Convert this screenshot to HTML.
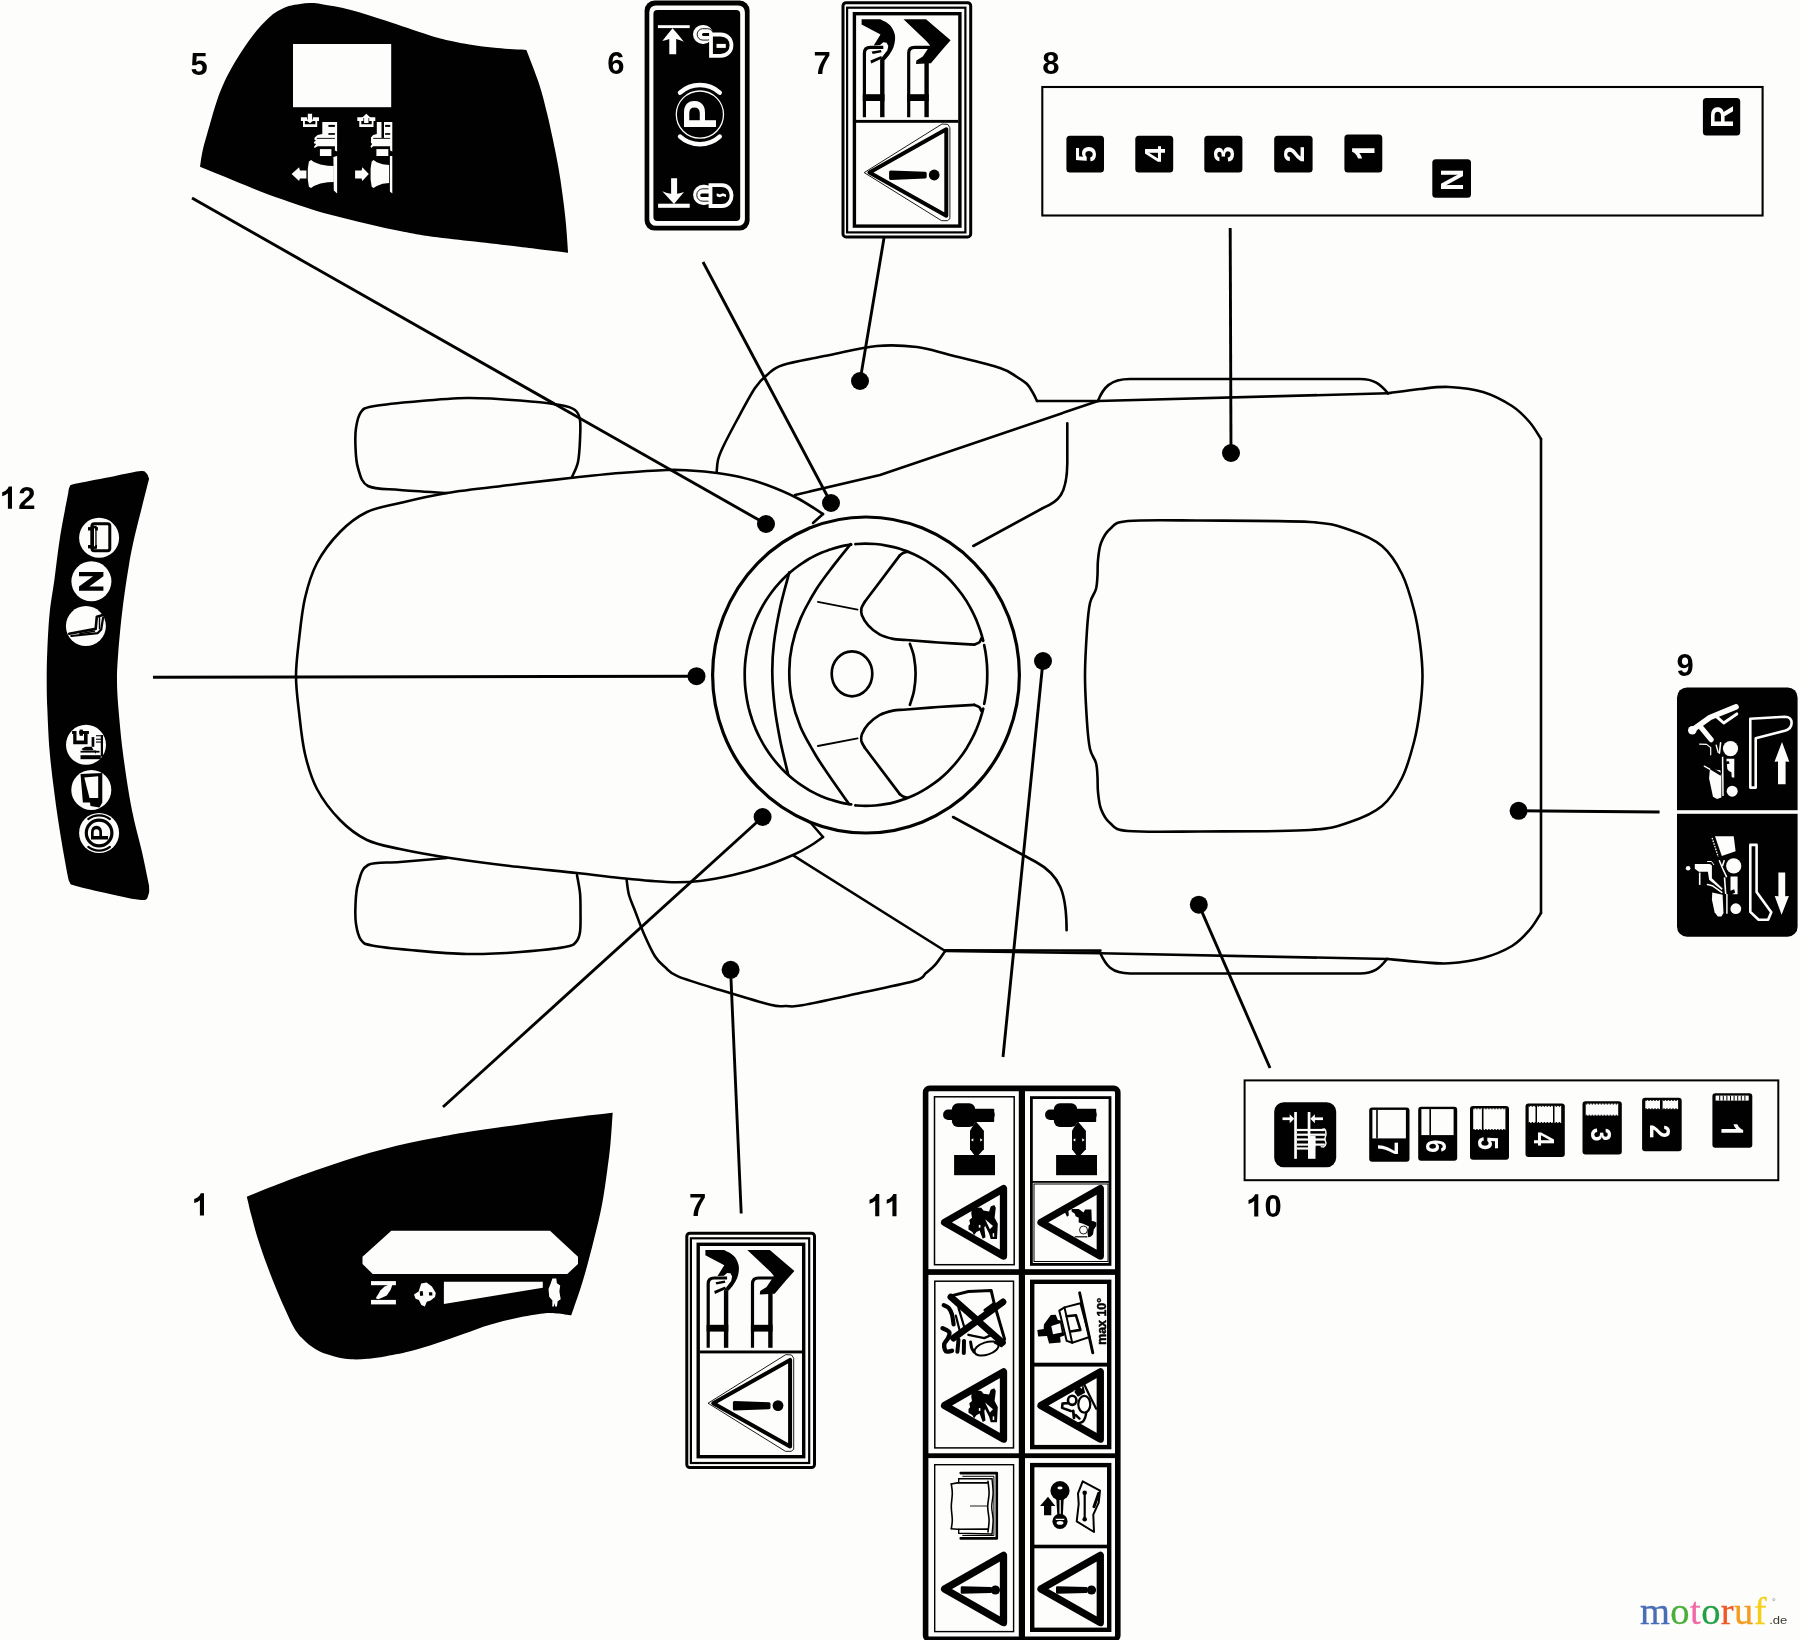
<!DOCTYPE html>
<html><head><meta charset="utf-8"><title>Decals</title>
<style>
html,body{margin:0;padding:0;background:#fdfefc;}
body{width:1800px;height:1640px;overflow:hidden;font-family:"Liberation Sans",sans-serif;}
svg{display:block}
text{font-family:"Liberation Sans",sans-serif;}
</style></head><body>
<svg width="1800" height="1640" viewBox="0 0 1800 1640">
<rect width="1800" height="1640" fill="#fdfefc"/>
<g opacity="0.999">
<!-- tractor -->
<g fill="none" stroke="#000" stroke-width="2.6" stroke-linecap="round" stroke-linejoin="round">
<path d="M813,523L823,514"/>
<path d="M823,514C818.7,511.3 806.3,502.8 797,498C787.7,493.2 776.5,488.5 767,485C757.5,481.5 748.3,479 740,477C731.7,475 725.3,474.1 717,473C708.7,471.9 698.3,471 690,470.5C681.7,470 678.7,469.6 667,470C655.3,470.4 636.2,471.7 620,473C603.8,474.3 588.3,476 570,478C551.7,480 530.5,482.5 510,485C489.5,487.5 465.3,490 447,493C428.7,496 413.3,499.8 400,503C386.7,506.2 377,507.2 367,512C357,516.8 348.3,523.5 340,532C331.7,540.5 322.8,552 317,563C311.2,574 308,585.2 305,598C302,610.8 300.5,627 299,640C297.5,653 296,664 296,676C296,688 297.5,699 299,712C300.5,725 302,741.2 305,754C308,766.8 311.2,778 317,789C322.8,800 331.7,811.5 340,820C348.3,828.5 357,835.2 367,840C377,844.8 386.2,846 400,849C413.8,852 431.7,855.2 450,858C468.3,860.8 488.8,863.5 510,866C531.2,868.5 558.7,871 577,873C595.3,875 605,876.5 620,878C635,879.5 653.7,881.5 667,882C680.3,882.5 689,882.2 700,881C711,879.8 722.2,877.5 733,875C743.8,872.5 755,869.3 765,866C775,862.7 785.5,858.3 793,855C800.5,851.7 805,849 810,846C815,843 820.8,838.5 823,837"/>
<path d="M823,837L810,822"/>
<path d="M572,477C573,474.5 576.7,468.2 578,462C579.3,455.8 579.7,447 580,440C580.3,433 580.8,425 580,420C579.2,415 578.3,412.5 575,410C571.7,407.5 569.2,406.6 560,405C550.8,403.4 535.5,401.7 520,400.5C504.5,399.3 485.3,397.8 467,398C448.7,398.2 425.8,400.6 410,402C394.2,403.4 380.2,404.8 372,406.5C363.8,408.2 363.7,408.4 361,412C358.3,415.6 356.9,422.2 356,428C355.1,433.8 355.2,440.3 355.5,447C355.8,453.7 355.9,461.5 358,468C360.1,474.5 361,482.3 368,486C375,489.7 386.8,488.8 400,490C413.2,491.2 439.2,492.5 447,493"/>
<path d="M577,875C577.5,878 579.4,886.8 580,893C580.6,899.2 580.5,905.5 580.5,912C580.5,918.5 580.8,927 580,932C579.2,937 578.5,939.5 576,942C573.5,944.5 574.3,945.3 565,947C555.7,948.7 536.3,950.8 520,952C503.7,953.2 485.3,954.3 467,954C448.7,953.7 425.8,951.4 410,950C394.2,948.6 380.2,947.2 372,945.5C363.8,943.8 363.7,943.6 361,940C358.3,936.4 356.9,929.8 356,924C355.1,918.2 355.2,911.7 355.5,905C355.8,898.3 355.9,890.7 358,884C360.1,877.3 361,868.7 368,865C375,861.3 386.8,863.2 400,862C413.2,860.8 439.2,858.7 447,858"/>
<path d="M716.7,471.7C716.9,469.8 717,464.1 718,460C719,455.9 719.8,453.7 723,447C726.2,440.3 731.7,429.8 737,420C742.3,410.2 750,395.5 755,388C760,380.5 762.3,378.8 767,375C771.7,371.2 772.5,368.3 783,365C793.5,361.7 814.3,358.2 830,355C845.7,351.8 862.5,347.3 877,346C891.5,344.7 904.8,345.5 917,347C929.2,348.5 936.2,351.5 950,355C963.8,358.5 988.8,364.3 1000,368C1011.2,371.7 1012.5,374.3 1017,377C1021.5,379.7 1024.3,381.3 1027,384C1029.7,386.7 1031.3,390.2 1033,393C1034.7,395.8 1036.3,399.7 1037,401"/>
<path d="M795,495L880,475L1098,401"/>
<path d="M1037,401L1098,401L1388,393.3"/>
<path d="M1388,393.3C1393.3,392.6 1409.8,390.1 1420,389C1430.2,387.9 1438.5,386.5 1449,387C1459.5,387.5 1472.5,388.8 1483,392C1493.5,395.2 1504.2,401 1512,406C1519.8,411 1524.7,416.5 1529.5,422C1534.3,427.5 1539.1,436.2 1541,439"/>
<path d="M1541,439L1541,913"/>
<path d="M1541,913C1539.1,915.8 1534.3,924.5 1529.5,930C1524.7,935.5 1519.8,941.3 1512,946C1504.2,950.7 1493.5,955.1 1483,958C1472.5,960.9 1459.5,962.6 1449,963.3C1438.5,964 1430.2,962.7 1420,962C1409.8,961.3 1393.3,959.5 1388,959"/>
<path d="M1388,959L1100,953.2L945,951"/>
<path d="M1100.5,950.6L945,950.2"/>
<path d="M1098,401C1103,388 1110,379 1130,379L1360,379C1374,379 1380,384 1388,393.3"/>
<path d="M1100,952.5C1106,966 1112,973.5 1130,973.5L1360,973.5C1374,973.5 1380,968 1387,959"/>
<path d="M1067.3,423.3L1067.3,463.3C1067,495 1058,502 1043,508L973.3,546"/>
<path d="M953,817L1036,862C1060,875 1066.6,893 1066.6,930.2"/>
<path d="M1128,521C1143,519.6 1169.7,520.3 1200,520.5C1230.3,520.7 1285,520.4 1310,522C1335,523.6 1338,526 1350,530C1362,534 1373.3,538.7 1382,546C1390.7,553.3 1396.7,563.3 1402,574C1407.3,584.7 1411,598.5 1414,610C1417,621.5 1418.6,632 1420,643C1421.4,654 1422.5,665 1422.5,676C1422.5,687 1421.4,698 1420,709C1418.6,720 1417,730.5 1414,742C1411,753.5 1407.3,767.3 1402,778C1396.7,788.7 1390.7,798.7 1382,806C1373.3,813.3 1362,818 1350,822C1338,826 1335,828.4 1310,830C1285,831.6 1230.3,831.3 1200,831.5C1169.7,831.7 1143,832.4 1128,831C1113,829.6 1114.5,826.7 1110,823C1105.5,819.3 1103,814.2 1101,809C1099,803.8 1098.6,797.3 1098,792C1097.4,786.7 1097.8,781.8 1097.5,777C1097.2,772.2 1097.2,767.7 1096,763C1094.8,758.3 1091.5,755.8 1090,749C1088.5,742.2 1087.8,734.2 1087,722C1086.2,709.8 1085,691.3 1085,676C1085,660.7 1086.2,642.2 1087,630C1087.8,617.8 1088.5,609.8 1090,603C1091.5,596.2 1094.8,593.7 1096,589C1097.2,584.3 1097.2,579.8 1097.5,575C1097.8,570.2 1097.4,565.3 1098,560C1098.6,554.7 1099,548.2 1101,543C1103,537.8 1105.5,532.7 1110,529C1114.5,525.3 1113,522.4 1128,521Z"/>
<path d="M626.6,879.7C627,882.2 627.6,890 629,895C630.4,900 632.2,903.5 634.7,910C637.2,916.5 640.6,926.3 644,934C647.4,941.7 651.4,950.7 654.9,956.2C658.4,961.7 661.1,963.6 665,967C668.9,970.4 668.8,972.6 678,976.4C687.2,980.2 704.6,985.3 720,990C735.4,994.7 759.4,1002.1 770.4,1004.8C781.4,1007.5 780.7,1005.9 786,1006C791.3,1006.1 789.9,1007.5 802.2,1005.3C814.5,1003.1 841.2,997.1 860,993C878.8,988.9 903.9,984.1 914.9,980.8C925.9,977.5 922.6,975.6 926,973C929.4,970.4 931.9,968.6 935.1,964.9C938.3,961.2 943.5,953.3 945.2,951"/>
<path d="M793.6,855.7L945.2,951"/>
</g>
<!-- steering -->
<g fill="none" stroke="#000" stroke-width="2.7" stroke-linecap="round" stroke-linejoin="round">
<ellipse cx="866" cy="675" rx="153.4" ry="158" stroke-width="3.2"/>
<path d="M851.2,804.4C849.5,804.1 844.4,803.4 841,802.6C837.7,801.8 834.3,800.9 831,799.8C827.7,798.8 824.5,797.5 821.3,796.2C818.1,794.8 814.9,793.3 811.8,791.6C808.7,790 805.7,788.2 802.8,786.2C799.8,784.3 797,782.2 794.2,780C791.4,777.8 788.7,775.5 786.1,773C783.5,770.6 781,768 778.7,765.3C776.3,762.7 774,759.9 771.8,757C769.6,754.1 767.6,751.1 765.6,748C763.7,745 761.9,741.8 760.2,738.5C758.5,735.3 757,732 755.5,728.6C754.1,725.2 752.8,721.8 751.7,718.3C750.5,714.8 749.5,711.2 748.6,707.6C747.8,704 747,700.4 746.5,696.7C745.9,693 745.4,689.3 745.1,685.6C744.8,681.9 744.7,678.2 744.7,674.5C744.7,670.8 744.8,667.1 745.1,663.4C745.4,659.7 745.9,656 746.5,652.3C747,648.6 747.8,645 748.6,641.4C749.5,637.8 750.5,634.2 751.7,630.7C752.8,627.2 754.1,623.8 755.5,620.4C757,617 758.5,613.7 760.2,610.5C761.9,607.2 763.7,604 765.6,601C767.6,597.9 769.6,594.9 771.8,592C774,589.1 776.3,586.3 778.7,583.7C781,581 783.5,578.4 786.1,576C788.7,573.5 791.4,571.2 794.2,569C797,566.8 799.8,564.7 802.8,562.8C805.7,560.8 808.7,559 811.8,557.4C814.9,555.7 818.1,554.2 821.3,552.8C824.5,551.5 827.7,550.2 831,549.2C834.3,548.1 837.7,547.2 841,546.4C844.4,545.6 849.5,544.9 851.2,544.6"/>
<path d="M984.2,645.1C984.4,646.4 985.3,650.6 985.7,653.4C986.1,656.2 986.5,659 986.7,661.8C987,664.6 987.2,667.4 987.2,670.3C987.3,673.1 987.3,675.9 987.2,678.7C987.2,681.6 987,684.4 986.7,687.2C986.5,690 986.1,692.8 985.7,695.6C985.3,698.4 984.4,702.6 984.2,703.9"/>
<path d="M855.4,544.1C857.1,544 862.1,543.6 865.4,543.6C868.7,543.6 872,543.7 875.3,544C878.6,544.3 881.9,544.7 885.2,545.3C888.5,545.8 891.8,546.5 895,547.4C898.2,548.2 901.4,549.2 904.5,550.4C907.7,551.5 910.8,552.8 913.9,554.2C916.9,555.6 919.9,557.2 922.8,558.9C925.8,560.5 928.6,562.3 931.4,564.3C934.2,566.2 937,568.3 939.6,570.4C942.2,572.6 944.8,574.9 947.3,577.3C949.7,579.7 952.1,582.2 954.4,584.8C956.6,587.4 958.8,590.2 960.9,593C963,595.8 964.9,598.7 966.8,601.6C968.6,604.6 970.4,607.7 972,610.8C973.6,613.9 975.1,617.1 976.5,620.4C977.8,623.7 979.1,627 980.2,630.4C981.3,633.7 982.9,639.4 983.2,640.6C983.4,641.9 982.3,637.5 981.7,637.8C981.1,638 980.7,641.1 979.4,642.3C978.2,643.4 975.1,644.3 974.2,644.7"/>
<path d="M974.2,644.7C968.2,644.4 949.4,643.3 938.1,642.5C926.9,641.7 914.1,640.6 906.6,640C899,639.4 897.5,639.8 893,638.9C888.5,637.9 883.6,636.6 879.5,634.4C875.4,632.1 871.1,628.5 868.2,625.3C865.3,622.2 863,618 861.9,615.2C860.8,612.4 861,610.7 861.4,608.4C861.9,606.2 864.3,602.8 864.8,601.7"/>
<path d="M864.8,601.7L899.8,555.4"/>
<path d="M899.8,555.4C900.4,555 901.9,553.5 903.2,552.9C904.5,552.3 906.9,552 907.7,551.8"/>
<path d="M855.4,805.4C857.1,805.5 862.1,805.9 865.4,805.9C868.7,805.9 872,805.8 875.3,805.5C878.6,805.2 881.9,804.8 885.2,804.2C888.5,803.7 891.8,803 895,802.1C898.2,801.3 901.4,800.3 904.5,799.1C907.7,798 910.8,796.7 913.9,795.3C916.9,793.9 919.9,792.3 922.8,790.6C925.8,789 928.6,787.2 931.4,785.2C934.2,783.3 937,781.2 939.6,779.1C942.2,776.9 944.8,774.6 947.3,772.2C949.7,769.8 952.1,767.3 954.4,764.7C956.6,762.1 958.8,759.3 960.9,756.5C963,753.7 964.9,750.8 966.8,747.9C968.6,744.9 970.4,741.8 972,738.7C973.6,735.6 975.1,732.4 976.5,729.1C977.8,725.8 979.1,722.5 980.2,719.1C981.3,715.8 982.9,710.1 983.2,708.9C983.4,707.6 982.3,712 981.7,711.7C981.1,711.5 980.7,708.4 979.4,707.2C978.2,706.1 975.1,705.2 974.2,704.8"/>
<path d="M974.2,704.8C968.2,705.1 949.4,706.2 938.1,707C926.9,707.8 914.1,708.9 906.6,709.5C899,710.1 897.5,709.7 893,710.6C888.5,711.6 883.6,712.9 879.5,715.1C875.4,717.4 871.1,721 868.2,724.2C865.3,727.3 863,731.5 861.9,734.3C860.8,737.1 861,738.8 861.4,741.1C861.9,743.3 864.3,746.7 864.8,747.8"/>
<path d="M864.8,747.8L899.8,794.1"/>
<path d="M899.8,794.1C900.4,794.5 901.9,796 903.2,796.6C904.5,797.2 906.9,797.5 907.7,797.7"/>
<path d="M909.9,643.8C910.6,646 913.1,651.9 914,656.9C914.9,661.9 915.6,668.2 915.6,673.8C915.6,679.5 914.9,685.6 914,690.8C913.1,695.9 910.6,702.4 909.9,704.8"/>
<ellipse cx="852" cy="673.8" rx="20.3" ry="22.5"/>
<path d="M850.6,544.1C847.9,547.5 840.1,556.9 834.4,564.4C828.7,572 822,580.2 816.3,589.3C810.7,598.3 804.6,609.2 800.5,618.6C796.5,628 793.8,637 792,645.7C790.1,654.3 789.3,661.8 789.3,670.5C789.2,679.1 789.6,688.1 791.5,697.5C793.4,706.9 796.4,717.1 800.5,726.9C804.7,736.6 810.7,746.8 816.3,756.2C822,765.6 828.9,775.3 834.4,783.3C839.8,791.2 846.6,800.5 849,804"/>
<path d="M789.3,572.3C787.8,578.2 782.8,595.5 780.2,607.3C777.7,619.1 775.2,632.5 773.9,643.4C772.6,654.3 772.2,662.2 772.3,672.7C772.4,683.2 773.3,695.3 774.6,706.6C775.9,717.8 778,729.1 780.2,740.4C782.5,751.7 786.8,768.6 788.1,774.2"/>
<path d="M817.9,601.9L857.6,609.6" stroke-width="1.8"/>
<path d="M817.9,746L857.6,738.4" stroke-width="1.8"/>
</g>
<!-- leaders -->
<g stroke="#000" stroke-width="2.9" stroke-linecap="butt" fill="#000">
<line x1="192" y1="198" x2="766" y2="524"/>
<line x1="703" y1="262" x2="831" y2="503"/>
<line x1="884" y1="238" x2="860" y2="381"/>
<line x1="1230.2" y1="228" x2="1231" y2="453"/>
<line x1="153" y1="677.3" x2="696.5" y2="676.2"/>
<line x1="443" y1="1107" x2="762.6" y2="817"/>
<line x1="741.2" y1="1213.5" x2="730.6" y2="969.8"/>
<line x1="1003" y1="1057" x2="1043" y2="661"/>
<line x1="1270" y1="1068" x2="1198.8" y2="904.7"/>
<line x1="1659.6" y1="812" x2="1518.6" y2="810.8"/>
<circle cx="766" cy="524" r="9" stroke="none"/>
<circle cx="831" cy="503" r="9" stroke="none"/>
<circle cx="860" cy="381" r="9" stroke="none"/>
<circle cx="1231" cy="453" r="9" stroke="none"/>
<circle cx="696.5" cy="676.2" r="9" stroke="none"/>
<circle cx="762.6" cy="817" r="9" stroke="none"/>
<circle cx="730.6" cy="969.8" r="9" stroke="none"/>
<circle cx="1043" cy="661" r="9" stroke="none"/>
<circle cx="1198.8" cy="904.7" r="9" stroke="none"/>
<circle cx="1518.6" cy="810.8" r="9" stroke="none"/>
</g>
<!-- labels -->
<g font-family="Liberation Sans, sans-serif" font-weight="bold" font-size="31" fill="#000">
<text x="190.6" y="74.6">5</text>
<text x="607.3" y="74">6</text>
<text x="813.4" y="74">7</text>
<text x="1042.3" y="74">8</text>
<text x="1676.6" y="675.8">9</text>
<text x="689" y="1216">7</text>
</g>
<!-- decals_a -->
<path d="M200,166.7C200.5,163.9 201.2,156.9 202.8,150C204.4,143.1 207.4,133.1 209.7,125C212,116.9 214.1,108.8 216.7,101.4C219.2,94 222,87 225,80.6C228,74.1 231.5,68.1 234.7,62.5C238,56.9 241.4,51.7 244.4,47.2C247.5,42.7 250,39.2 252.8,35.6C255.6,31.9 258.3,28.6 261.1,25.6C263.9,22.5 266.7,19.6 269.4,17.2C272.2,14.8 274.5,13 277.8,11.1C281,9.3 285.2,7.3 288.9,6.1C292.6,4.9 296.3,4.4 300,3.9C303.7,3.4 307.4,3 311.1,3.1C314.8,3.1 315.5,3.1 322,4.2C328.5,5.3 339.3,6.9 350,9.7C360.7,12.5 373.1,16.7 386.1,20.8C399.1,25 417.1,31.4 427.8,34.7C438.4,38.1 443.1,39.2 450,40.8C456.9,42.5 461.6,43.2 469.4,44.4C477.3,45.6 487.7,47.1 497.2,48.1C506.7,49 521.5,49.7 526.4,50L526.4,50C528.5,55.6 535.4,72.7 538.9,83.3C542.4,94 544.9,104.6 547.2,113.9C549.5,123.1 550.9,130.1 552.8,138.9C554.6,147.7 556.7,157.4 558.3,166.7C560,175.9 561.2,185.2 562.5,194.4C563.8,203.7 564.9,212.5 565.8,222.2C566.8,231.9 567.7,247.7 568.1,252.8L568.1,252.8C563.2,252.2 548.4,250.3 538.9,249.2C529.4,248 522.7,247.2 511.1,245.8C499.5,244.5 483.3,242.7 469.4,241.1C455.6,239.5 439.4,237.8 427.8,236.1C416.2,234.4 409.3,233 400,231.1C390.7,229.3 381.5,227.1 372.2,225C363,222.9 353.7,220.6 344.4,218.3C335.2,216 325.9,213.9 316.7,211.1C307.4,208.3 298.1,204.9 288.9,201.7C279.6,198.4 270.8,195.4 261.1,191.7C251.4,187.9 240.7,183.3 230.6,179.2C220.4,175 205.1,168.8 200,166.7Z" fill="#000"/>
<rect x="293" y="44" width="98.2" height="63.2" fill="#fdfefc"/>
<path d="M300.9,117.3L307.1,117.3L307.1,120.9L304.9,120.9L304.9,124.2L315.4,124.2L315.4,120.9L312.9,120.9L312.9,117.3L319,117.3L319,120.9L317.2,120.9L317.2,126.9L303,126.9L303,120.9L300.9,120.9Z" fill="#fdfefc" />
<path d="M307.8,113.7L312.1,113.7L312.1,119.4L314.5,119.4L310,123.3L305.4,119.4L307.8,119.4Z" fill="#fdfefc" />
<path d="M357.3,117.3L363.4,117.3L363.4,120.9L361.3,120.9L361.3,124.2L371.7,124.2L371.7,120.9L369.2,120.9L369.2,117.3L375.3,117.3L375.3,120.9L373.5,120.9L373.5,126.9L359.3,126.9L359.3,120.9L357.3,120.9Z" fill="#fdfefc" />
<path d="M366.3,113.7L370.9,118.1L368.5,118.1L368.5,123L364.1,123L364.1,118.1L361.8,118.1Z" fill="#fdfefc" />
<path d="M322.3,122L337.1,122L337.1,151.6L334.9,150.6L334.9,146.2L317.6,146.2L314.7,148L313.9,146.9L316.1,144.1L313.9,143.3L314.3,141.5L316.1,140.8L314.3,139.4L314.7,137.6L317.6,135L322.3,133.9Z" fill="#fdfefc" />
<rect x="328.4" y="124.9" width="6.5" height="2" fill="#000"/>
<rect x="328.4" y="133.1" width="6.5" height="1.7" fill="#000"/>
<path d="M316.8,137.9L334.9,137.9L334.9,138.8L316.8,138.8Z" fill="#000" />
<rect x="319.9" y="149.1" width="11.5" height="6.9" fill="#fdfefc"/>
<path d="M333.4,157.1L337.1,156L337.1,193.5L333.8,190.6Z" fill="#fdfefc" />
<path d="M308.9,161.4L311.1,160.1L313.9,162.1L320.4,164.6L327.7,165.7L333.8,165.9L333.8,182L327.7,182.3L320.4,183.4L313.9,185.9L311.1,188.1L308.9,186.7L307.8,179.4L307.8,168.6Z" fill="#fdfefc" />
<path d="M291.6,174L299.1,167.2L299.9,170.4L306.4,170.4L306.4,178.4L299.9,178.4L299.1,181Z" fill="#fdfefc" />
<path d="M376.8,122L392.3,122L392.3,151.6L390.1,150.6L390.1,146.2L373.2,146.2L371.1,148L370.6,146.2L372.1,144.1L370.9,142.6L371.1,139.4L370.9,137.6L373.2,135L376.8,133.9Z" fill="#fdfefc" />
<rect x="381.5" y="122" width="2.5" height="15.9" fill="#000"/>
<rect x="385.1" y="124.9" width="5.1" height="2" fill="#000"/>
<rect x="385.1" y="133.1" width="5.1" height="1.7" fill="#000"/>
<path d="M373.2,137.9L390.1,137.9L390.1,138.8L373.2,138.8Z" fill="#000" />
<rect x="376.4" y="149.1" width="11.9" height="6.9" fill="#fdfefc"/>
<path d="M389.9,156L392.3,156L392.3,193.5L389.9,191.4Z" fill="#fdfefc" />
<path d="M371.7,161.4L373.5,160.1L376.8,162.3L382.6,164.3L389.1,165L389.1,183.1L382.6,183.8L376.8,185.9L373.5,188.1L371.7,186.7L370.6,179.4L370.6,168.6Z" fill="#fdfefc" />
<path d="M368.8,174L362.3,167.2L361.6,170.4L355.1,170.4L355.1,178.4L361.6,178.4L362.3,181Z" fill="#fdfefc" />
<path d="M246.8,1196.7C251.8,1194.7 267.2,1188.3 276.7,1184.7C286.1,1181 294.4,1178 303.3,1174.8C312.2,1171.6 321.1,1168.5 330,1165.5C338.9,1162.4 347.8,1159.4 356.7,1156.7C365.6,1154 374.4,1151.5 383.3,1149.2C392.2,1146.9 401.1,1144.8 410,1142.8C418.9,1140.8 427.8,1139.2 436.7,1137.5C445.6,1135.8 452.2,1134.4 463.3,1132.7C474.4,1130.9 490,1128.7 503.3,1126.8C516.7,1124.9 530.9,1122.9 543.3,1121.2C555.8,1119.5 566.4,1118.1 578,1116.7C589.6,1115.2 606.9,1113.3 612.7,1112.7L612.7,1112.7C612.3,1117.8 611.4,1133.8 610.5,1143.3C609.6,1152.9 608.8,1159.8 607.3,1170C605.9,1180.2 604.2,1193.1 602,1204.7C599.8,1216.2 597.1,1226.9 594,1239.3C590.9,1251.8 587.1,1266.7 583.3,1279.3C579.6,1292 573.3,1309.3 571.3,1315.3L571.3,1315.3C568.9,1315 561.3,1313.8 556.7,1313.5C552,1313.2 550,1312.7 543.3,1313.5C536.7,1314.2 525.6,1316.1 516.7,1318C507.8,1319.9 498.9,1322 490,1324.7C481.1,1327.3 472.2,1330.9 463.3,1334C454.4,1337.1 445.6,1340.4 436.7,1343.3C427.8,1346.2 418.9,1349.1 410,1351.3C401.1,1353.6 390.4,1355.4 383.3,1356.7C376.2,1357.9 372.7,1358.4 367.3,1358.8C362,1359.2 356.7,1359.7 351.3,1359.3C346,1359 340.7,1358 335.3,1356.7C330,1355.3 324.2,1353.8 319.3,1351.3C314.4,1348.9 310,1345.6 306,1342C302,1338.4 298.7,1335.1 295.3,1330C292,1324.9 289.1,1318 286,1311.3C282.9,1304.7 279.8,1297.6 276.7,1290C273.6,1282.4 270.4,1274.4 267.3,1266C264.2,1257.6 260.7,1247.8 258,1239.3C255.3,1230.9 253.2,1222.4 251.3,1215.3C249.5,1208.2 247.6,1199.8 246.8,1196.7Z" fill="#000"/>
<path d="M391.3,1230.8L550,1230.8L578,1256.7L578,1263.9L567.3,1274L372.7,1274L362.5,1263.9L362.5,1256.7Z" fill="#fdfefc" />
<rect x="371" y="1281.1" width="24.9" height="4.1" fill="#fdfefc"/>
<rect x="371" y="1299.9" width="24.9" height="4.5" fill="#fdfefc"/>
<path d="M375.7,1298.2L380.6,1290.3L384.6,1286.4L389.8,1284.3L392.3,1285.2L390.5,1290L386.7,1295.6L382.5,1297.4L378.3,1299.2Z" fill="#fdfefc" />
<path d="M414,1294.4L418.6,1291.6L421.2,1283.5L426.6,1282.4L431.9,1286.4L435.8,1293.1L435,1296.9L430.6,1300.5L426.8,1301.8L424.8,1306.6L421.4,1305.1L418.9,1300L415.6,1298.7Z" fill="#fdfefc" />
<path d="M419.7,1291.6L422.7,1291L423.2,1295.4L420.2,1295.9Z" fill="#000" />
<path d="M428.9,1292.3L432.2,1292.3L432.4,1295.6L429.1,1295.4Z" fill="#000" />
<path d="M443.9,1281.8L542.8,1281.8L542.8,1287.7L443.9,1304.1Z" fill="#fdfefc" />
<path d="M552.4,1278.5L556.3,1278.5L556.9,1283.3L560.2,1285.4L559.4,1291.6L560.7,1299.2L557.7,1301.3L556.9,1306.6L555.1,1306.6L554.6,1303.1L553.8,1306.6L552.3,1306.6L552.4,1300.5L549.2,1296.7L548.5,1289L550.5,1283.9Z" fill="#fdfefc" />
<path d="M68.2,493C68.5,492 68.5,488.2 69.7,486.7C70.8,485.2 68.6,485.4 75.1,483.8C81.7,482.3 98.3,479.3 108.9,477.2C119.6,475.1 132.8,471.9 139,471.2C145.3,470.5 144.5,471.7 146.2,472.9C147.9,474.2 148.6,477.7 149.1,478.7L149.1,478.7C147.9,483.4 144.3,497.8 141.9,507.3C139.5,516.9 136.9,526.5 134.7,536C132.6,545.6 131,552.7 129,564.7C127,576.6 124.5,593.3 122.7,607.7C120.9,622 119.4,638.7 118.4,650.7C117.5,662.6 117,669.8 117,679.4C117,688.9 117.5,696.1 118.4,708C119.4,720 120.9,736.7 122.7,751C124.5,765.4 127,782.1 129,794C131,806 132.6,813.1 134.7,822.7C136.9,832.3 139.5,840.9 141.9,851.4C144.3,861.9 147.9,880 149.1,885.8L149.1,885.8C149,887.2 149.7,892 148.5,894.4C147.3,896.8 148.5,900.2 141.9,900.1C135.3,900 120.1,896.2 108.9,893.8C97.8,891.4 81.7,887.7 75.1,885.8C68.6,883.9 70.9,884 69.7,882.3C68.4,880.7 68,876.8 67.7,875.7L67.7,875.7C66.5,869.3 63,850.7 60.8,837C58.6,823.4 56.3,808.4 54.5,794C52.6,779.7 50.8,765.4 49.6,751C48.4,736.7 47.8,720 47.3,708C46.8,696.1 46.7,688.9 46.7,679.4C46.7,669.8 46.8,661.7 47.3,650.7C47.8,639.7 48.4,625.4 49.6,613.4C50.8,601.5 52.7,591.9 54.5,579C56.2,566.1 57.9,550.3 60.2,536C62.5,521.7 66.9,500.2 68.2,493Z" fill="#000"/>
<circle cx="99.1" cy="537.8" r="20" fill="#fdfefc"/>
<circle cx="91.4" cy="581.3" r="20" fill="#fdfefc"/>
<circle cx="85.9" cy="626.1" r="20" fill="#fdfefc"/>
<circle cx="86" cy="744.8" r="20" fill="#fdfefc"/>
<circle cx="91.3" cy="789.9" r="20" fill="#fdfefc"/>
<circle cx="99.1" cy="833" r="20" fill="#fdfefc"/>
<!-- decals_b -->
<rect x="644.6" y="0.6" width="105" height="230" fill="#000" rx="10"/>
<rect x="649.3" y="5.4" width="95.6" height="220.4" fill="#fdfefc" rx="6.5"/>
<rect x="653.4" y="10" width="86.8" height="211" fill="#000" rx="4"/>
<rect x="657.9" y="25.2" width="31.8" height="2.9" fill="#fdfefc"/>
<path d="M672.6,28.2L678,34.4L683.9,41.7L679.5,39.9L676.2,39.1L676.2,54.3L669.3,54.3L669.3,39.1L666.3,39.9L662.3,41L667.4,34.4Z" fill="#fdfefc" />
<rect x="693" y="24.9" width="20.1" height="19" rx="9.5" fill="#fdfefc"/>
<rect x="697.2" y="28.7" width="16" height="11.4" rx="5.6" fill="none" stroke="#000" stroke-width="0.9"/>
<rect x="702" y="32.9" width="11.1" height="3.2" rx="1.5" fill="#000"/>
<path d="M711,34.5 L720.5,34.5 C735.1,34.5 735.1,55.8 720.5,55.8 L711,55.8 Z" fill="#000" stroke="#fdfefc" stroke-width="3.8" stroke-linejoin="miter"/>
<rect x="716.5" y="43.9" width="9.3" height="4" fill="#fdfefc"/>
<g transform="translate(699.9,114.6) rotate(-90)" fill="none" stroke="#fdfefc">
<circle cx="0" cy="0" r="23.6" stroke-width="1.3"/>
<path d="M-22,-19.8 A29.6,29.6 0 0 0 -22,19.8" stroke-width="4.6" stroke-linecap="round"/>
<path d="M22,-19.8 A29.6,29.6 0 0 1 22,19.8" stroke-width="4.6" stroke-linecap="round"/>
<text x="0" y="16.5" text-anchor="middle" font-family="Liberation Sans, sans-serif" font-weight="bold" font-size="46" fill="#fdfefc" stroke="none">P</text>
</g>
<rect x="658.1" y="203.7" width="31.6" height="4.1" fill="#fdfefc"/>
<path d="M671.1,178.3L677.1,178.3L677.1,193.8L679.9,193.3L684,192.1L679.4,197.5L674,203.9L668,197.5L662.3,191.2L666.9,193L671.1,193.8Z" fill="#fdfefc" />
<rect x="693.1" y="184.8" width="21.6" height="20.1" rx="10" fill="#fdfefc"/>
<rect x="696.8" y="188.8" width="17.8" height="12.4" rx="6" fill="none" stroke="#000" stroke-width="0.9"/>
<rect x="700.3" y="193.5" width="14.3" height="3.5" rx="1.5" fill="#000"/>
<path d="M710.5,185.2 L721.9,185.2 C734.8,185.2 734.8,206 721.9,206 L710.5,206 Z" fill="#000" stroke="#fdfefc" stroke-width="3.8"/>
<path d="M716.7,193.3L719.8,194.4L722.9,193.3L726,194.4L726,196.9L722.9,195.9L719.8,197.3L716.7,196.2Z" fill="#fdfefc" />
<!-- decals_c -->
<g transform="translate(0,0)">
<rect x="843" y="2.7" width="127.7" height="234.2" fill="none" stroke="#000" stroke-width="3" rx="3"/>
<rect x="847.1" y="7.7" width="118.3" height="224.7" fill="none" stroke="#000" stroke-width="2.2"/>
<rect x="854.4" y="13.7" width="105.5" height="212.4" fill="none" stroke="#000" stroke-width="3.4"/>
<rect x="856" y="119.9" width="102.5" height="2.9" fill="#000"/>
<path d="M864.4,117.2 L864.4,53.2 C864.4,48.3 867.2,47.4 870.4,47.4 L883.3,47.4" fill="none" stroke="#000" stroke-width="3.2"/>
<rect x="880.1" y="59.6" width="4.4" height="57.6" fill="#000"/>
<rect x="862.8" y="94.2" width="21.7" height="6.8" fill="#000"/>
<path d="M861.6,19.3L880.1,19.3L880.1,19.3C881.2,19.9 884.7,21.3 886.6,22.6C888.4,23.8 890,25.1 891.4,27C892.7,28.9 894,31.6 894.6,33.8C895.2,36 895.2,38 895,40.3C894.8,42.6 894.3,45.2 893.4,47.5C892.5,49.8 891.2,51.9 889.8,54C888.4,56.1 885.7,59 884.9,60L880.1,60L883.3,55.6L887.4,50.3L888.3,45.9L886.6,42.7L883.3,42.3L880.1,45.1L873.7,45.5L880.5,34.6L861.6,24.6Z" fill="#000"/>
<path d="M871.7,51.6L880.9,49.9L881.6,52.2L872.7,54Z" fill="#000" />
<path d="M870.4,60.4L881.3,56L882.1,58.4L871.2,63.5Z" fill="#000" />
<path d="M908.7,117.2 L908.7,53.2 C908.7,48.3 911.5,47.4 914.7,47.4 L931.7,47.4" fill="none" stroke="#000" stroke-width="3.2"/>
<rect x="924.4" y="62.8" width="4.4" height="54.4" fill="#000"/>
<rect x="907.1" y="94.2" width="21.7" height="6.8" fill="#000"/>
<path d="M903.5,19.3L926,19.3L950.6,40.3L942.1,49.9L930.9,63.2L916,64L916.4,60.4L922.8,56.4L930.1,45.5L926.8,41.5Z" fill="#000" />
<path d="M869.4,172.6L946.3,129.3L946.3,215.8Z" fill="none" stroke="#000" stroke-width="4.0" stroke-linejoin="round"/>
<path d="M864.2,172.6L942,124L947.8,124.4L949.9,127.7L949.9,218.7L947.4,220.7L941.6,220.7Z" fill="none" stroke="#000" stroke-width="0.9" stroke-linejoin="round"/>
<path d="M890.6,171.9 L925.2,173.2 L925.2,177.1 L890.6,178.5 Z" fill="#000" stroke="#000" stroke-width="3" stroke-linejoin="round"/>
<circle cx="934.2" cy="175" r="5.4" fill="#000"/>
</g>
<g transform="translate(-156.2,1230.6)">
<rect x="843" y="2.7" width="127.7" height="234.2" fill="none" stroke="#000" stroke-width="3" rx="3"/>
<rect x="847.1" y="7.7" width="118.3" height="224.7" fill="none" stroke="#000" stroke-width="2.2"/>
<rect x="854.4" y="13.7" width="105.5" height="212.4" fill="none" stroke="#000" stroke-width="3.4"/>
<rect x="856" y="119.9" width="102.5" height="2.9" fill="#000"/>
<path d="M864.4,117.2 L864.4,53.2 C864.4,48.3 867.2,47.4 870.4,47.4 L883.3,47.4" fill="none" stroke="#000" stroke-width="3.2"/>
<rect x="880.1" y="59.6" width="4.4" height="57.6" fill="#000"/>
<rect x="862.8" y="94.2" width="21.7" height="6.8" fill="#000"/>
<path d="M861.6,19.3L880.1,19.3L880.1,19.3C881.2,19.9 884.7,21.3 886.6,22.6C888.4,23.8 890,25.1 891.4,27C892.7,28.9 894,31.6 894.6,33.8C895.2,36 895.2,38 895,40.3C894.8,42.6 894.3,45.2 893.4,47.5C892.5,49.8 891.2,51.9 889.8,54C888.4,56.1 885.7,59 884.9,60L880.1,60L883.3,55.6L887.4,50.3L888.3,45.9L886.6,42.7L883.3,42.3L880.1,45.1L873.7,45.5L880.5,34.6L861.6,24.6Z" fill="#000"/>
<path d="M871.7,51.6L880.9,49.9L881.6,52.2L872.7,54Z" fill="#000" />
<path d="M870.4,60.4L881.3,56L882.1,58.4L871.2,63.5Z" fill="#000" />
<path d="M908.7,117.2 L908.7,53.2 C908.7,48.3 911.5,47.4 914.7,47.4 L931.7,47.4" fill="none" stroke="#000" stroke-width="3.2"/>
<rect x="924.4" y="62.8" width="4.4" height="54.4" fill="#000"/>
<rect x="907.1" y="94.2" width="21.7" height="6.8" fill="#000"/>
<path d="M903.5,19.3L926,19.3L950.6,40.3L942.1,49.9L930.9,63.2L916,64L916.4,60.4L922.8,56.4L930.1,45.5L926.8,41.5Z" fill="#000" />
<path d="M869.4,172.6L946.3,129.3L946.3,215.8Z" fill="none" stroke="#000" stroke-width="4.0" stroke-linejoin="round"/>
<path d="M864.2,172.6L942,124L947.8,124.4L949.9,127.7L949.9,218.7L947.4,220.7L941.6,220.7Z" fill="none" stroke="#000" stroke-width="0.9" stroke-linejoin="round"/>
<path d="M890.6,171.9 L925.2,173.2 L925.2,177.1 L890.6,178.5 Z" fill="#000" stroke="#000" stroke-width="3" stroke-linejoin="round"/>
<circle cx="934.2" cy="175" r="5.4" fill="#000"/>
</g>
<!-- decals_d -->
<rect x="1042.3" y="87" width="720.3" height="128.5" fill="none" stroke="#000" stroke-width="2.1"/>
<rect x="1066.4" y="135.7" width="37.6" height="36.7" fill="#000" rx="3.5"/>
<text transform="translate(1085.2,154.1) rotate(-90) scale(1.0,1)" x="0" y="10.4" text-anchor="middle" font-family="Liberation Sans, sans-serif" font-weight="bold" font-size="29" fill="#fdfefc">5</text>
<rect x="1135.3" y="135.7" width="37.9" height="36.7" fill="#000" rx="3.5"/>
<text transform="translate(1154.2,154.1) rotate(-90) scale(1.0,1)" x="0" y="10.4" text-anchor="middle" font-family="Liberation Sans, sans-serif" font-weight="bold" font-size="29" fill="#fdfefc">4</text>
<rect x="1204.3" y="135.7" width="38.1" height="36.7" fill="#000" rx="3.5"/>
<text transform="translate(1223.3,154.1) rotate(-90) scale(1.0,1)" x="0" y="10.4" text-anchor="middle" font-family="Liberation Sans, sans-serif" font-weight="bold" font-size="29" fill="#fdfefc">3</text>
<rect x="1274.2" y="135.7" width="38.4" height="36.7" fill="#000" rx="3.5"/>
<text transform="translate(1293.4,154.1) rotate(-90) scale(1.0,1)" x="0" y="10.4" text-anchor="middle" font-family="Liberation Sans, sans-serif" font-weight="bold" font-size="29" fill="#fdfefc">2</text>
<rect x="1344.4" y="134.5" width="37.9" height="37.9" fill="#000" rx="3.5"/>
<path transform="translate(1363.3,153.4) rotate(-90)" d="M5.1,-11.2L5.1,11.2L0.5,11.2L0.5,-4L-2.1,-2.3L-5.1,-1.2L-5.1,-5.2L-2.1,-6.6L0.3,-8.8L1.7,-11.2Z" fill="#fdfefc"/>
<rect x="1432.3" y="159.3" width="38.7" height="38.4" fill="#000" rx="3.5"/>
<text transform="translate(1451.7,179.9) rotate(-90) scale(1.0,1)" x="0" y="11.1" text-anchor="middle" font-family="Liberation Sans, sans-serif" font-weight="bold" font-size="31" fill="#fdfefc">N</text>
<rect x="1702.9" y="98.1" width="37.3" height="37.4" fill="#000" rx="3.5"/>
<text transform="translate(1721.6,116.8) rotate(-90) scale(1.0,1)" x="0" y="11.1" text-anchor="middle" font-family="Liberation Sans, sans-serif" font-weight="bold" font-size="31" fill="#fdfefc">R</text>
<rect x="1677" y="687.4" width="120.6" height="249.4" fill="#000" rx="10"/>
<rect x="1676.5" y="810.2" width="122" height="3.6" fill="#fdfefc"/>
<circle cx="1692.3" cy="730.2" r="4.3" fill="#fdfefc"/>
<path d="M1692.8,729.8L1709.9,717.5L1736,706.8" fill="none" stroke="#fdfefc" stroke-linecap="round" stroke-linejoin="round" stroke-width="5.6" />
<path d="M1701.6,728.2L1711.1,739.7" fill="none" stroke="#fdfefc" stroke-linecap="round" stroke-linejoin="round" stroke-width="5.2" />
<path d="M1716.2,716.3L1723.7,723L1736.8,713.9" fill="none" stroke="#fdfefc" stroke-linecap="round" stroke-linejoin="round" stroke-width="3" />
<circle cx="1730.5" cy="748.6" r="7.6" fill="#fdfefc"/>
<path d="M1699.6,744.1L1706.7,744.4L1710.7,747.6L1710.7,754.8" fill="none" stroke="#fdfefc" stroke-linecap="round" stroke-linejoin="round" stroke-width="1.2" />
<path d="M1716.2,745.2L1718.2,752.4" fill="none" stroke="#fdfefc" stroke-linecap="round" stroke-linejoin="round" stroke-width="1.4" />
<path d="M1720.6,742.9L1719.4,753.2" fill="none" stroke="#fdfefc" stroke-linecap="round" stroke-linejoin="round" stroke-width="1.6" />
<path d="M1722.6,756.7L1723,796" fill="none" stroke="#fdfefc" stroke-linecap="butt" stroke-linejoin="round" stroke-width="1.5" />
<path d="M1704.3,766.2L1719.4,774.6" fill="none" stroke="#fdfefc" stroke-linecap="round" stroke-linejoin="round" stroke-width="1.4" />
<path d="M1709.9,769L1720.2,770.2L1721.4,774.6L1721.4,797.6L1717,799.1L1713,796.8L1709.1,778.5Z" fill="#fdfefc" />
<path d="M1709.9,769.2L1720.6,775.8L1721.4,773L1712.3,767.4Z" fill="#000" />
<path d="M1726.5,758.7L1734.3,758.7L1734.3,777.7L1731.7,777.3L1731.4,772.2L1728.9,771L1727.3,769L1726.9,764.3L1729.7,763.5L1728.5,761.1L1726.5,761.5Z" fill="#fdfefc" />
<circle cx="1732.2" cy="791.2" r="5.5" fill="#fdfefc"/>
<path d="M1750.3,718.7 L1750.3,787.6 L1755.7,787.6 L1755.7,738.3 L1784.8,730.8 C1793.9,728.2 1793.9,716.7 1784.8,716.7 Z" fill="none" stroke="#fdfefc" stroke-width="2.6" stroke-linejoin="round"/>
<path d="M1782,742.1L1789.3,761.7L1785.6,761.5L1785.6,784.2L1778,784.2L1778,761.5L1774.5,761.7Z" fill="#fdfefc" />
<path d="M1715,836.2L1733.7,836.2L1735.6,851.2L1721.8,856.1Z" fill="#fdfefc" />
<path d="M1712.1,837.9L1718.2,856.8" fill="none" stroke="#fdfefc" stroke-linecap="butt" stroke-linejoin="round" stroke-width="1.3" stroke-dasharray="1.6 1.2"/>
<path d="M1719.4,860.7L1723.4,870.2L1726.5,876.6" fill="none" stroke="#fdfefc" stroke-linecap="round" stroke-linejoin="round" stroke-width="1.5" />
<path d="M1724.1,860.7L1722.6,865.5" fill="none" stroke="#fdfefc" stroke-linecap="round" stroke-linejoin="round" stroke-width="1.5" />
<circle cx="1733.7" cy="865.9" r="7.6" fill="#fdfefc"/>
<circle cx="1688.1" cy="868.3" r="2.3" fill="#fdfefc"/>
<path d="M1694.8,863.9L1709.9,863.9L1711.9,865.5L1711.9,878.2L1722.6,888.5L1721.8,890.1L1709.1,879.8L1707.9,871.8L1698.8,871.8L1694.8,868.7Z" fill="#fdfefc" />
<path d="M1707.5,861.5L1711.5,861.5L1713.8,864.7" fill="none" stroke="#fdfefc" stroke-linecap="round" stroke-linejoin="round" stroke-width="1" />
<path d="M1699.7,872.6L1699.7,884.9" fill="none" stroke="#fdfefc" stroke-linecap="butt" stroke-linejoin="round" stroke-width="1.6" />
<path d="M1707.5,884.5L1712.3,885.7L1721.8,892.4" fill="none" stroke="#fdfefc" stroke-linecap="round" stroke-linejoin="round" stroke-width="1.6" />
<path d="M1730.5,876.6L1737.6,876.6L1737.6,894.2L1732.1,894.2L1735.2,892.4L1734.1,889.3L1730.5,890.8Z" fill="#fdfefc" />
<path d="M1724.5,877.4L1725.7,894" fill="none" stroke="#fdfefc" stroke-linecap="butt" stroke-linejoin="round" stroke-width="1.6" />
<path d="M1712.3,892.4L1722.6,894.8L1723.5,913L1721.4,916.6L1717.8,916.6L1714.6,912.3L1711.9,899.6Z" fill="#fdfefc" />
<path d="M1726.9,894L1726.9,913.8" fill="none" stroke="#fdfefc" stroke-linecap="butt" stroke-linejoin="round" stroke-width="1.5" />
<circle cx="1735.8" cy="908.7" r="5.4" fill="#fdfefc"/>
<path d="M1750.3,844.9L1750.3,911.9L1758.6,919.8L1768.1,919.8L1771.3,912.3L1756.6,892L1756.6,844.9Z" fill="none" stroke="#fdfefc" stroke-width="2.6" stroke-linejoin="round"/>
<path d="M1781.6,914.8L1788.9,896L1785.2,896.2L1785.2,872.6L1778.4,872.6L1778.4,896.2L1774.7,896Z" fill="#fdfefc" />
<rect x="1244.6" y="1080.4" width="533.7" height="99.8" fill="none" stroke="#000" stroke-width="2"/>
<rect x="1274.2" y="1102.2" width="62" height="65" fill="#000" rx="9.5"/>
<rect x="1294.2" y="1112" width="2.7" height="46.8" fill="#fdfefc"/>
<rect x="1307.7" y="1112" width="2.7" height="24.7" fill="#fdfefc"/>
<rect x="1308" y="1136" width="7.5" height="22.8" fill="#fdfefc"/>
<rect x="1282.5" y="1117.4" width="9.7" height="2.7" fill="#fdfefc"/>
<path d="M1294.2,1118.7L1289.7,1114.2L1289.7,1123.2Z" fill="#fdfefc" />
<rect x="1312.5" y="1117.4" width="10.5" height="2.7" fill="#fdfefc"/>
<path d="M1310.4,1118.7L1314.9,1114.2L1314.9,1123.2Z" fill="#fdfefc" />
<rect x="1296.9" y="1128.9" width="27.9" height="2.2" fill="#fdfefc"/>
<rect x="1296.9" y="1133.6" width="28.5" height="2.2" fill="#fdfefc"/>
<rect x="1296.9" y="1138.4" width="28.5" height="2.2" fill="#fdfefc"/>
<rect x="1296.9" y="1143.5" width="27.9" height="2.2" fill="#fdfefc"/>
<rect x="1296.9" y="1147.4" width="15.6" height="2.2" fill="#fdfefc"/>
<path d="M1320.7,1130C1321.4,1129.9 1323.9,1128.5 1324.8,1129.2C1325.7,1130 1326,1132.9 1326,1134.5C1326,1136.1 1324.8,1137.5 1324.8,1139C1324.8,1140.5 1326.2,1142.2 1326,1143.5C1325.8,1144.8 1324.6,1146.3 1323.7,1146.8C1322.9,1147.3 1321.2,1146.5 1320.7,1146.5" fill="none" stroke="#fdfefc" stroke-width="1.4"/>
<rect x="1308.3" y="1136.7" width="6.9" height="11.2" fill="#fdfefc"/>
<rect x="1369.2" y="1107.5" width="40.3" height="54.3" fill="#000" rx="3"/>
<rect x="1372.4" y="1109.9" width="33.5" height="28.5" fill="#fdfefc"/>
<rect x="1376.2" y="1109.9" width="1.6" height="28.5" fill="#000"/>
<text transform="translate(1388.5,1148.4) rotate(90) scale(0.8,1)" x="0" y="10.7" text-anchor="middle" font-family="Liberation Sans, sans-serif" font-weight="bold" font-size="30" fill="#fdfefc">7</text>
<rect x="1418.2" y="1106.7" width="39" height="54" fill="#000" rx="3"/>
<rect x="1421.4" y="1109.1" width="32.2" height="26" fill="#fdfefc"/>
<rect x="1429.4" y="1109.1" width="1.6" height="26" fill="#000"/>
<text transform="translate(1436.9,1146.2) rotate(90) scale(0.8,1)" x="0" y="10.7" text-anchor="middle" font-family="Liberation Sans, sans-serif" font-weight="bold" font-size="30" fill="#fdfefc">6</text>
<rect x="1470" y="1106" width="39" height="53.7" fill="#000" rx="3"/>
<rect x="1473.2" y="1108.4" width="32.2" height="21.5" fill="#fdfefc"/>
<rect x="1481.9" y="1108.4" width="1.6" height="21.5" fill="#000"/>
<text transform="translate(1488.7,1143.1) rotate(90) scale(0.8,1)" x="0" y="10.7" text-anchor="middle" font-family="Liberation Sans, sans-serif" font-weight="bold" font-size="30" fill="#fdfefc">5</text>
<rect x="1525.5" y="1103.5" width="39.3" height="53.4" fill="#000" rx="3"/>
<rect x="1528.7" y="1105.9" width="32.5" height="17" fill="#fdfefc"/>
<text transform="translate(1544.4,1139) rotate(90) scale(0.8,1)" x="0" y="10.7" text-anchor="middle" font-family="Liberation Sans, sans-serif" font-weight="bold" font-size="30" fill="#fdfefc">4</text>
<rect x="1582.5" y="1101.2" width="39.3" height="53.4" fill="#000" rx="3"/>
<rect x="1585.7" y="1103.6" width="32.5" height="12" fill="#fdfefc"/>
<text transform="translate(1601.4,1134.7) rotate(90) scale(0.8,1)" x="0" y="10.7" text-anchor="middle" font-family="Liberation Sans, sans-serif" font-weight="bold" font-size="30" fill="#fdfefc">3</text>
<rect x="1642.1" y="1097.7" width="39.6" height="53.6" fill="#000" rx="3"/>
<rect x="1645.3" y="1100.1" width="32.8" height="9" fill="#fdfefc"/>
<text transform="translate(1661.1,1131.3) rotate(90) scale(0.8,1)" x="0" y="10.7" text-anchor="middle" font-family="Liberation Sans, sans-serif" font-weight="bold" font-size="30" fill="#fdfefc">2</text>
<rect x="1712.4" y="1093.2" width="39.9" height="54.6" fill="#000" rx="3"/>
<rect x="1715.6" y="1095.6" width="33.1" height="5" fill="#fdfefc"/>
<path transform="translate(1732.3,1128.5) rotate(90) scale(0.85,0.97)" d="M5.1,-11.2L5.1,11.2L0.5,11.2L0.5,-4L-2.1,-2.3L-5.1,-1.2L-5.1,-5.2L-2.1,-6.6L0.3,-8.8L1.7,-11.2Z" fill="#fdfefc"/>
<path d="M1473.2,1108.7 H1505.4 M1473.2,1129.6 H1505.4" stroke="#000" stroke-width="1.1" stroke-dasharray="1.4 1.6" fill="none"/>
<path d="M1528.7,1106.2 H1561.2 M1528.7,1122.6 H1561.2" stroke="#000" stroke-width="1.1" stroke-dasharray="1.4 1.6" fill="none"/>
<path d="M1585.7,1103.9 H1618.2 M1585.7,1115.3 H1618.2" stroke="#000" stroke-width="1.1" stroke-dasharray="1.4 1.6" fill="none"/>
<path d="M1645.3,1100.4 H1678.1 M1645.3,1108.8 H1678.1" stroke="#000" stroke-width="1.1" stroke-dasharray="1.4 1.6" fill="none"/>
<rect x="1535.5" y="1105.9" width="1.5" height="17" fill="#000"/>
<rect x="1553" y="1105.9" width="1.5" height="17" fill="#000"/>
<rect x="1660" y="1100.1" width="2.6" height="9" fill="#000"/>
<rect x="1719.2" y="1095.6" width="1" height="5" fill="#000"/>
<rect x="1722.8" y="1095.6" width="1" height="5" fill="#000"/>
<rect x="1726.4" y="1095.6" width="1" height="5" fill="#000"/>
<rect x="1730" y="1095.6" width="1" height="5" fill="#000"/>
<rect x="1733.6" y="1095.6" width="1" height="5" fill="#000"/>
<rect x="1737.2" y="1095.6" width="1" height="5" fill="#000"/>
<rect x="1740.8" y="1095.6" width="1" height="5" fill="#000"/>
<rect x="1744.4" y="1095.6" width="1" height="5" fill="#000"/>
<!-- decals_e -->
<rect x="925.6" y="1088.4" width="192.2" height="551" fill="none" stroke="#000" stroke-width="5.6" rx="4"/>
<rect x="1018.8" y="1088" width="6.2" height="557" fill="#000"/>
<rect x="925" y="1269.2" width="193" height="5.7" fill="#000"/>
<rect x="925" y="1453.3" width="193" height="4.8" fill="#000"/>
<rect x="934.5" y="1096.8" width="79.7" height="167.9" fill="none" stroke="#000" stroke-width="1.5"/>
<rect x="934.8" y="1281.2" width="78.7" height="166.7" fill="none" stroke="#000" stroke-width="1.5"/>
<rect x="934.7" y="1464.7" width="78.9" height="166.9" fill="none" stroke="#000" stroke-width="1.4"/>
<rect x="1031.4" y="1097.6" width="78.6" height="166.8" fill="none" stroke="#000" stroke-width="2.8"/>
<rect x="1031" y="1181" width="79" height="1.8" fill="#000"/>
<rect x="1034" y="1184" width="74" height="77.5" fill="none" stroke="#000" stroke-width="1"/>
<rect x="1032.2" y="1281.8" width="77" height="165.3" fill="none" stroke="#000" stroke-width="4.4"/>
<rect x="1032" y="1362.7" width="78" height="3.9" fill="#000"/>
<rect x="1032.2" y="1465.1" width="77" height="164.7" fill="none" stroke="#000" stroke-width="4.4"/>
<rect x="1032" y="1544.7" width="78" height="3.6" fill="#000"/>
<path d="M944.6,1222.3L1003.5,1188.6L1003.5,1256Z" fill="none" stroke="#000" stroke-width="7.3" stroke-linejoin="round"/>
<path d="M1041,1222.3L1100.3,1188.6L1100.3,1256Z" fill="none" stroke="#000" stroke-width="7.3" stroke-linejoin="round"/>
<path d="M944.6,1405.5L1003.5,1371.8L1003.5,1439.2Z" fill="none" stroke="#000" stroke-width="7.3" stroke-linejoin="round"/>
<path d="M1041,1405.5L1100.3,1371.8L1100.3,1439.2Z" fill="none" stroke="#000" stroke-width="7.3" stroke-linejoin="round"/>
<path d="M944.6,1589L1003.5,1555.3L1003.5,1622.7Z" fill="none" stroke="#000" stroke-width="7.3" stroke-linejoin="round"/>
<path d="M1041,1589L1100.3,1555.3L1100.3,1622.7Z" fill="none" stroke="#000" stroke-width="7.3" stroke-linejoin="round"/>
<rect x="943.1" y="1109.5" width="51.6" height="10.4" rx="5" fill="#000"/>
<rect x="973.3" y="1108.7" width="20.9" height="13.4" rx="0.8" fill="#000"/>
<rect x="951.9" y="1103.2" width="23.3" height="23.7" rx="6" fill="#000"/>
<path d="M975.7,1121.3L983.9,1130.8L983.9,1149.3L978.2,1155.5L974.6,1155.5L970,1149.3L970,1130.8Z" fill="#000" />
<path d="M970.9,1139.9L973.3,1138.3L973.3,1141.6Z" fill="#fdfefc" />
<path d="M982.6,1139.9L980.2,1138.3L980.2,1141.6Z" fill="#fdfefc" />
<rect x="954.1" y="1155" width="40.9" height="20.2" fill="#000"/>
<rect x="1045.1" y="1109.5" width="51.6" height="10.4" rx="5" fill="#000"/>
<rect x="1075.3" y="1108.7" width="20.9" height="13.4" rx="0.8" fill="#000"/>
<rect x="1053.9" y="1103.2" width="23.3" height="23.7" rx="6" fill="#000"/>
<path d="M1077.7,1121.3L1085.9,1130.8L1085.9,1149.3L1080.2,1155.5L1076.6,1155.5L1072,1149.3L1072,1130.8Z" fill="#000" />
<path d="M1072.9,1139.9L1075.3,1138.3L1075.3,1141.6Z" fill="#fdfefc" />
<path d="M1084.6,1139.9L1082.2,1138.3L1082.2,1141.6Z" fill="#fdfefc" />
<rect x="1056.1" y="1155" width="40.9" height="20.2" fill="#000"/>
<path d="M971.6,1209.8L977.2,1207.4L981.2,1207.8L983.5,1210.6L989.1,1211.4L990.7,1206.6L994.2,1205.1L995.8,1207.8L994.6,1217.7L997.8,1223.7L997,1239.1L990.7,1239.1L989.1,1233.6L985.1,1225.7L984.3,1227.7L985.5,1237.2L982.7,1238.7L979.6,1230.4L976.4,1232L974,1235.2L972.4,1232L968.5,1229.6L968.5,1225.7L970.1,1224.1L969.3,1220.1L972,1217.7L971.3,1213.8Z" fill="#000" />
<path d="M985.1,1219.3L993,1226.1L989.9,1229.2Z" fill="#fdfefc" />
<path d="M978.8,1224.9L980.4,1224.9L980.4,1227.7L978.8,1227.7Z" fill="#fdfefc" />
<path d="M992.7,1233.2L994.2,1233.2L994.2,1236.8L992.7,1236.8Z" fill="#fdfefc" />
<path d="M1071.6,1209L1078.7,1209L1083.5,1212.6L1085.1,1209.4L1091.4,1209.4L1091.8,1220.9L1093.8,1221.3L1096.4,1222.5L1096.4,1225.7L1093.8,1229.6L1093,1234.4L1090.6,1236.8L1088.2,1237.2L1087.4,1232L1089,1226.5L1083.1,1223.7L1078.7,1222.5L1078.7,1217.7L1075.6,1216.2L1074.8,1213.8L1071.6,1211.4Z" fill="#000" />
<path d="M1064.9,1212.2L1068.4,1210.2L1068.8,1215.4L1067,1216.8Z" fill="#000" />
<circle cx="1083.5" cy="1230" r="4" fill="none" stroke="#000" stroke-width="0.9"/>
<path d="M1074.8,1236.8L1087.4,1236.8" fill="none" stroke="#000" stroke-width="1.2"/>
<path d="M971.6,1393L977.2,1390.6L981.2,1391L983.5,1393.8L989.1,1394.6L990.7,1389.8L994.2,1388.3L995.8,1391L994.6,1400.9L997.8,1406.9L997,1422.3L990.7,1422.3L989.1,1416.8L985.1,1408.9L984.3,1410.9L985.5,1420.4L982.7,1421.9L979.6,1413.6L976.4,1415.2L974,1418.4L972.4,1415.2L968.5,1412.8L968.5,1408.9L970.1,1407.3L969.3,1403.3L972,1400.9L971.3,1397Z" fill="#000" />
<path d="M985.1,1402.5L993,1409.3L989.9,1412.4Z" fill="#fdfefc" />
<path d="M978.8,1408.1L980.4,1408.1L980.4,1410.9L978.8,1410.9Z" fill="#fdfefc" />
<path d="M992.7,1416.4L994.2,1416.4L994.2,1420L992.7,1420Z" fill="#fdfefc" />
<path d="M1084.3,1384.5L1089.4,1395.2L1096.2,1408.7" fill="none" stroke="#000" stroke-linecap="round" stroke-linejoin="round" stroke-width="2.2"/>
<ellipse cx="1084.3" cy="1404.3" rx="6" ry="8.4" fill="none" stroke="#000" stroke-linecap="round" stroke-linejoin="round" stroke-width="2.2"/>
<ellipse cx="1072.2" cy="1400.3" rx="4.2" ry="4.6" fill="none" stroke="#000" stroke-linecap="round" stroke-linejoin="round" stroke-width="2.6"/>
<path d="M1073.2,1390.4L1079.5,1386.5L1083.5,1386.1L1085.1,1392.8L1077.9,1396.8Z" fill="#000" />
<path d="M1073.6,1390.8L1075.6,1390L1074,1392.4Z" fill="#fdfefc" />
<path d="M1079.9,1386.9L1082.3,1386.5L1081.9,1388.9Z" fill="#fdfefc" />
<path d="M1068,1403.1L1062.5,1403.5L1062.1,1407.9L1070.8,1411" fill="none" stroke="#000" stroke-linecap="round" stroke-linejoin="round" stroke-width="2.6"/>
<path d="M1073.2,1411L1074,1417.8" fill="none" stroke="#000" stroke-linecap="round" stroke-linejoin="round" stroke-width="2.8"/>
<path d="M1086.3,1412.6C1086.1,1413.5 1085.7,1416.3 1085.1,1417.8C1084.5,1419.3 1083.8,1420.8 1082.7,1421.8C1081.6,1422.7 1079.4,1423.1 1078.7,1423.3" fill="none" stroke="#000" stroke-linecap="round" stroke-linejoin="round" stroke-width="2.4"/>
<path d="M1075.6,1415L1079.5,1418.6" fill="none" stroke="#000" stroke-linecap="round" stroke-linejoin="round" stroke-width="2.4"/>
<path d="M961.9,1587.4L990.8,1588.2L990.8,1591.8L961.9,1592.6Z" fill="#000" stroke="#000" stroke-width="2.4" stroke-linejoin="round"/>
<circle cx="995.4" cy="1590" r="4.6" fill="#000"/>
<path d="M1057.2,1587.4L1086.3,1588.2L1086.3,1591.8L1057.2,1592.6Z" fill="#000" stroke="#000" stroke-width="2.4" stroke-linejoin="round"/>
<circle cx="1091.5" cy="1590" r="4.6" fill="#000"/>
<path d="M950,1296.1L968.4,1291.5L991.2,1290.6L994.2,1303.5L984.9,1310.1" fill="none" stroke="#000" stroke-linecap="round" stroke-linejoin="round" stroke-width="3"/>
<path d="M994.2,1303.5L1004.6,1339.2L1001.4,1345.8L995.3,1342.5" fill="none" stroke="#000" stroke-linecap="round" stroke-linejoin="round" stroke-width="3"/>
<path d="M950.9,1297L1002.4,1342.5" fill="none" stroke="#000" stroke-linecap="round" stroke-linejoin="round" stroke-width="6.8"/>
<path d="M1003,1301.9L953.6,1338.1" fill="none" stroke="#000" stroke-linecap="round" stroke-linejoin="round" stroke-width="6.8"/>
<path d="M958.5,1307.9L965.1,1329.9" fill="none" stroke="#000" stroke-linecap="round" stroke-linejoin="round" stroke-width="2.2"/>
<path d="M955.8,1315.6L960.7,1334.3" fill="none" stroke="#000" stroke-linecap="round" stroke-linejoin="round" stroke-width="2.2"/>
<path d="M968.4,1334.8L984.3,1338.1L990.4,1335.4" fill="none" stroke="#000" stroke-linecap="round" stroke-linejoin="round" stroke-width="2.4"/>
<path d="M943.7,1305.2C944.5,1305.6 947.3,1306.4 948.7,1307.9C950,1309.5 951.1,1311.8 952,1314.5C952.8,1317.3 953.3,1322.7 953.6,1324.4" fill="none" stroke="#000" stroke-linecap="round" stroke-linejoin="round" stroke-width="4.2"/>
<path d="M942.6,1328.2C943.7,1328.9 948.3,1330.4 949.2,1332.1C950.1,1333.7 948.9,1336.1 948.1,1338.1C947.3,1340.1 944.6,1342 944.3,1344.2C943.9,1346.4 944.6,1350.2 945.9,1351.3C947.2,1352.4 950.9,1350.8 952,1350.7" fill="none" stroke="#000" stroke-linecap="round" stroke-linejoin="round" stroke-width="4.4"/>
<path d="M958.5,1339.8L957.4,1351.8" fill="none" stroke="#000" stroke-linecap="round" stroke-linejoin="round" stroke-width="4"/>
<path d="M964,1340.9L963.8,1352.9" fill="none" stroke="#000" stroke-linecap="round" stroke-linejoin="round" stroke-width="4"/>
<path d="M970.6,1342C970.8,1343 971.2,1346.4 971.7,1348C972.3,1349.6 973.5,1351.2 973.9,1351.8" fill="none" stroke="#000" stroke-linecap="round" stroke-linejoin="round" stroke-width="3"/>
<ellipse cx="986.5" cy="1348.5" rx="12.5" ry="6.2" transform="rotate(-18 986.5 1348.5)" fill="none" stroke="#000" stroke-width="2"/>
<path d="M1079.6,1292.8L1092.8,1352.9" fill="none" stroke="#000" stroke-linecap="round" stroke-linejoin="round" stroke-width="2.9"/>
<path d="M1059.3,1310.7L1064.5,1307.4L1080.4,1303.3L1089.5,1337L1072.2,1342.8L1066.7,1340.9L1059.3,1310.7Z" fill="none" stroke="#000" stroke-linecap="round" stroke-linejoin="round" stroke-width="2"/>
<path d="M1064.5,1307.4L1072.2,1342.8" fill="none" stroke="#000" stroke-linecap="round" stroke-linejoin="round" stroke-width="2"/>
<path d="M1066.7,1316.2L1076,1315.3L1080.4,1329.9L1070.6,1331.5" fill="none" stroke="#000" stroke-linecap="round" stroke-linejoin="round" stroke-width="2.6"/>
<path d="M1037.3,1329.9L1043.7,1329.1L1043.9,1324.4L1050.8,1315.1L1055.7,1314.8L1057.9,1320L1061.2,1320.6L1062.9,1328.8L1064.5,1335.4L1060.1,1337L1060.7,1342.5L1049.1,1343.6L1047,1335.9L1038.2,1336.5Z" fill="#000" />
<path d="M1051.3,1326L1060.1,1323.3L1061.8,1332.6L1053,1334.3Z" fill="#fdfefc" />
<text transform="translate(1105.6,1344.8) rotate(-90)" x="0" y="0" font-family="Liberation Sans, sans-serif" font-weight="bold" font-size="12.5" textLength="47" lengthAdjust="spacingAndGlyphs" fill="#000" stroke="#000" stroke-width="0.5">max 10°</text>
<path d="M960.7,1473.1L996.8,1473.1L996.8,1538.4L960.7,1538.4" fill="none" stroke="#000" stroke-linecap="round" stroke-linejoin="round" stroke-width="2.6"/>
<path d="M962.7,1476.3L993.9,1476.3L993.9,1535.5L962.7,1535.5" fill="none" stroke="#000" stroke-linecap="round" stroke-linejoin="round" stroke-width="1"/>
<path d="M951.3,1484C951.5,1485.6 952.3,1489.6 952.3,1493.3C952.3,1497.1 951.3,1502.2 951.3,1506.7C951.3,1511.1 952.3,1516.3 952.3,1520C952.3,1523.7 951.5,1527.2 951.3,1528.7" fill="none" stroke="#000" stroke-linecap="round" stroke-linejoin="round" stroke-width="1.6"/>
<path d="M951.3,1484L957.3,1482.9L988,1482.9" fill="none" stroke="#000" stroke-linecap="round" stroke-linejoin="round" stroke-width="1.6"/>
<path d="M951.3,1528.7L957.3,1529.3L988,1529.1" fill="none" stroke="#000" stroke-linecap="round" stroke-linejoin="round" stroke-width="1.6"/>
<path d="M988,1481.3C988.2,1483.3 989.1,1489.1 989.1,1493.3C989,1497.6 987.7,1502.2 987.7,1506.7C987.7,1511.1 989,1515.8 989.1,1520C989.1,1524.2 988.2,1530 988,1532" fill="none" stroke="#000" stroke-linecap="round" stroke-linejoin="round" stroke-width="1.6"/>
<path d="M992,1478.7C992.2,1481.1 993.1,1488.7 993.1,1493.3C993,1498 991.7,1502.2 991.7,1506.7C991.7,1511.1 993,1515.4 993.1,1520C993.1,1524.6 992.2,1531.7 992,1534" fill="none" stroke="#000" stroke-linecap="round" stroke-linejoin="round" stroke-width="1.4"/>
<path d="M958.7,1478.7L958.7,1482.9" fill="none" stroke="#000" stroke-linecap="round" stroke-linejoin="round" stroke-width="1.4"/>
<path d="M958.7,1529.3L958.7,1533.3L992,1534" fill="none" stroke="#000" stroke-linecap="round" stroke-linejoin="round" stroke-width="1.4"/>
<path d="M958.7,1478.7L992,1478.7" fill="none" stroke="#000" stroke-linecap="round" stroke-linejoin="round" stroke-width="1.4"/>
<path d="M970.4,1506L987.3,1506" fill="none" stroke="#000" stroke-linecap="round" stroke-linejoin="round" stroke-width="0.9"/>
<circle cx="1060" cy="1490.7" r="9.6" fill="#000"/>
<ellipse cx="1060" cy="1488" rx="2.6" ry="1.4" fill="#fdfefc"/>
<path d="M1056.3,1498.7L1063.7,1498.7L1062.9,1514.7L1057.3,1514.7Z" fill="#000" />
<rect x="1059.5" y="1500" width="1.3" height="14.7" fill="#fdfefc"/>
<circle cx="1060" cy="1521.3" r="7.6" fill="#000"/>
<path d="M1055.3,1518.7L1064.7,1518.7L1064,1520L1056,1520Z" fill="#fdfefc" />
<ellipse cx="1060" cy="1522.9" rx="3.4" ry="1.8" fill="#fdfefc"/>
<path d="M1048,1496.7L1055.3,1506L1051.3,1506L1051.3,1515.3L1044,1515.3L1044,1506L1040,1506Z" fill="#000" />
<path d="M1082.7,1481.3L1100,1490.7L1098.7,1502.7L1093.3,1514.7L1094,1532L1076.7,1521.3L1078.7,1504L1078,1493.3Z" fill="none" stroke="#000" stroke-linecap="round" stroke-linejoin="round" stroke-width="2"/>
<path d="M1084.7,1492.7L1084.7,1519.3" fill="none" stroke="#000" stroke-linecap="round" stroke-linejoin="round" stroke-width="2.2"/>
<circle cx="1084.7" cy="1492.7" r="2.3" fill="#000"/>
<circle cx="1084.7" cy="1519.3" r="2.3" fill="#000"/>
<path d="M1098.7,1493.3L1094,1506.7" fill="none" stroke="#000" stroke-linecap="round" stroke-linejoin="round" stroke-width="3"/>
<!-- decals_f -->
<rect x="92" y="523.8" width="17.8" height="27" rx="2.2" fill="none" stroke="#000" stroke-linejoin="round" stroke-linecap="round" stroke-width="3"/>
<rect x="90.6" y="525.8" width="6" height="23.1" fill="#000"/>
<rect x="94" y="528.4" width="1.3" height="17.9" fill="#fdfefc"/>
<rect x="88" y="527.1" width="3" height="3.4" fill="#000"/>
<rect x="88" y="545" width="3" height="3.4" fill="#000"/>
<rect x="95.3" y="527.1" width="2.6" height="3.4" fill="#000"/>
<rect x="95.3" y="545" width="1.7" height="3.4" fill="#000"/>
<path d="M79,571.9L103.4,571.9L103.4,576.2L89.3,586.4L103.4,586.4L103.4,590.7L79,590.7L79,586.4L93.1,576.2L79,576.2Z" fill="#000" />
<path d="M69.2,633.7L95.7,628.9L96.8,616.7L102.1,615.2" fill="none" stroke="#000" stroke-linejoin="round" stroke-linecap="round" stroke-width="2.6"/>
<path d="M71.3,636L97.8,633.1L101.2,629.6L103.1,617.6" fill="none" stroke="#000" stroke-linejoin="round" stroke-linecap="round" stroke-width="2.2"/>
<path d="M99.5,617.6L99.5,628.7" fill="none" stroke="#000" stroke-linejoin="round" stroke-linecap="round" stroke-width="1.4"/>
<path d="M79.9,633.7L94.4,631.3" fill="none" stroke="#000" stroke-linejoin="round" stroke-linecap="round" stroke-width="1.4"/>
<path d="M72.1,730.9L76.5,730.9L76.5,740.6L84,740.6L84,734L79.2,734L79.2,730.9L88.9,730.9L88.9,734L87.6,734L87.6,744.2L73.2,744.2L73.2,734L72.1,734Z" fill="#000" />
<rect x="79.6" y="729.6" width="3.3" height="6.2" fill="#000"/>
<rect x="91.6" y="737.1" width="2.7" height="9.7" fill="#000"/>
<rect x="96" y="735.2" width="7.1" height="1.1" fill="#000"/>
<rect x="96" y="738.7" width="7.1" height="1.1" fill="#000"/>
<rect x="96" y="741.5" width="7.1" height="1.1" fill="#000"/>
<rect x="100.8" y="735.2" width="2.2" height="21.4" fill="#000"/>
<path d="M81.4,749L85.4,746.8L91.6,746.8L96,753.9L96,750.4L83.6,750.4Z" fill="#000" />
<rect x="80.5" y="750.8" width="19" height="1.8" fill="#000"/>
<rect x="80.5" y="755.2" width="20.3" height="4" fill="#000"/>
<path d="M80.5,774.1L102.3,772.9L102.3,802.5L99.5,807.4L90.5,806.1L90,802.5L82.9,802.5Z" fill="#000" />
<path d="M84.3,777.6L98.2,776.2L98.2,798.1L89.5,798.1Z" fill="#fdfefc" />
<g transform="translate(99.1,833) rotate(-90)" fill="none" stroke="#000">
<circle cx="0" cy="0" r="12.8" stroke-width="3.2"/>
<path d="M-13.9,-10.8 A17.6,17.6 0 0 0 -13.9,10.8" stroke-width="2.2" stroke-linecap="round"/>
<path d="M13.9,-10.8 A17.6,17.6 0 0 1 13.9,10.8" stroke-width="2.2" stroke-linecap="round"/>
<text x="0" y="8.6" text-anchor="middle" font-family="Liberation Sans, sans-serif" font-weight="bold" font-size="24" fill="#000" stroke="none">P</text>
</g>
<path d="M12,486.4L12,508.7L7.9,508.7L7.9,493.3L5.4,495L2.2,496.2L2.2,492.2L5.2,490.9L7.6,488.7L8.8,486.4Z" fill="#000"/>
<text x="18.3" y="508.7" font-family="Liberation Sans, sans-serif" font-weight="bold" font-size="31" fill="#000">2</text>
<path d="M204,1193.3L204,1215.6L199.9,1215.6L199.9,1200.2L197.4,1201.9L194.2,1203.1L194.2,1199.1L197.2,1197.8L199.6,1195.6L200.8,1193.3Z" fill="#000"/>
<path d="M879.3,1193.9L879.3,1216.2L875.2,1216.2L875.2,1200.8L872.7,1202.5L869.5,1203.7L869.5,1199.7L872.5,1198.4L874.9,1196.2L876.1,1193.9Z" fill="#000"/>
<path d="M896.5,1193.9L896.5,1216.2L892.4,1216.2L892.4,1200.8L889.9,1202.5L886.7,1203.7L886.7,1199.7L889.7,1198.4L892.1,1196.2L893.3,1193.9Z" fill="#000"/>
<path d="M1258.3,1194.2L1258.3,1216.5L1254.2,1216.5L1254.2,1201.1L1251.7,1202.8L1248.5,1204L1248.5,1200L1251.5,1198.7L1253.9,1196.5L1255.1,1194.2Z" fill="#000"/>
<text x="1264.6" y="1216.5" font-family="Liberation Sans, sans-serif" font-weight="bold" font-size="31" fill="#000">0</text>
<!-- logo -->
<text x="1640" y="1624.4" style="font-family:'Liberation Serif',serif" font-size="38.5" textLength="126.5" lengthAdjust="spacing"><tspan fill="#4a6db5" stroke="#4a6db5" stroke-width="0.3">m</tspan><tspan fill="#4cae3a" stroke="#4cae3a" stroke-width="0.3">o</tspan><tspan fill="#ef6aa7" stroke="#ef6aa7" stroke-width="0.3">t</tspan><tspan fill="#22a046" stroke="#22a046" stroke-width="0.3">o</tspan><tspan fill="#ee5a24" stroke="#ee5a24" stroke-width="0.3">r</tspan><tspan fill="#f39c1f" stroke="#f39c1f" stroke-width="0.3">u</tspan><tspan fill="#f5cf1c" stroke="#f5cf1c" stroke-width="0.3">f</tspan></text><text transform="translate(1769.2,1624.4) scale(1.24,1)" x="0" y="0" font-size="10.5" fill="#3a3a30">.de</text><circle cx="1773.8" cy="1599.6" r="1.1" fill="none" stroke="#8a8a80" stroke-width="0.6"/>
</g></svg></body></html>
